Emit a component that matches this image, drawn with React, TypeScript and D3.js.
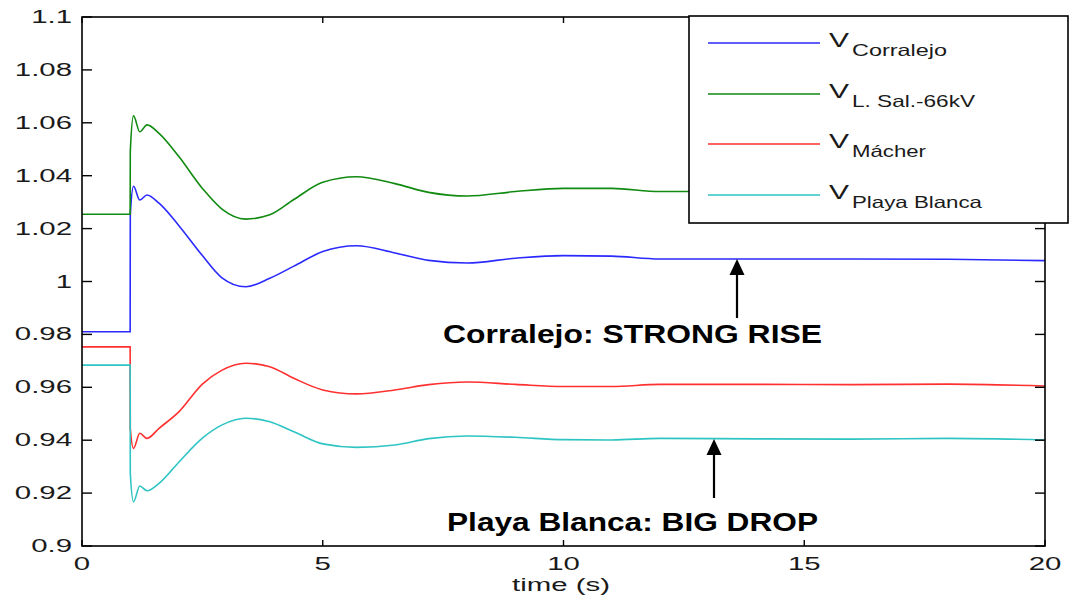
import React from "react";
import * as d3 from "d3";

const timeS = [0, 1, 1.003, 1.07, 1.2, 1.35, 1.6, 2.0, 2.5, 2.9, 3.4, 3.9, 4.4, 5.0, 5.7, 6.5, 7.2, 8.0, 9.0, 10, 11, 12, 14, 16, 18, 20];
const vCorralejo = [0.981, 0.981, 1.025, 1.036, 1.0308, 1.0327, 1.0296, 1.0214, 1.0098, 1.0015, 0.998, 1.0012, 1.0058, 1.0113, 1.0135, 1.0108, 1.008, 1.007, 1.0088, 1.0098, 1.0096, 1.0085, 1.0085, 1.0085, 1.0084, 1.0079];
const vLSal = [1.0254, 1.0254, 1.049, 1.0626, 1.0566, 1.0592, 1.056, 1.0475, 1.0352, 1.0275, 1.0236, 1.0252, 1.031, 1.0375, 1.0396, 1.037, 1.0337, 1.0323, 1.034, 1.0352, 1.0352, 1.034, 1.034, 1.034, 1.034, 1.034];
const vMacher = [0.9753, 0.9753, 0.9445, 0.9369, 0.9426, 0.9407, 0.9445, 0.9505, 0.9612, 0.9664, 0.9691, 0.9678, 0.9634, 0.959, 0.9575, 0.959, 0.961, 0.962, 0.9611, 0.9603, 0.9603, 0.9611, 0.9611, 0.961, 0.9612, 0.9605];
const vPlaya = [0.9684, 0.9684, 0.9275, 0.9167, 0.9227, 0.9209, 0.9237, 0.9315, 0.9408, 0.9457, 0.9483, 0.947, 0.9432, 0.9386, 0.9373, 0.9382, 0.9406, 0.9416, 0.9411, 0.9402, 0.9401, 0.9407, 0.9405, 0.9404, 0.9407, 0.9401];

const xTicks = [0, 5, 10, 15, 20];
const yTicks = [0.9, 0.92, 0.94, 0.96, 0.98, 1, 1.02, 1.04, 1.06, 1.08, 1.1];
const yTickLabels = ["0.9", "0.92", "0.94", "0.96", "0.98", "1", "1.02", "1.04", "1.06", "1.08", "1.1"];

const seriesNames = ["Corralejo", "L. Sal.-66kV", "Mácher", "Playa Blanca"];
const seriesColors = ["#2a2aff", "#118a11", "#ff3030", "#2ec4c4"];
const seriesValues = [vCorralejo, vLSal, vMacher, vPlaya];
const subWidths = [95, 123, 74, 130];

const FONT = "'Liberation Sans', Arial, Helvetica, sans-serif";

export default function App() {
  const L = 82, R = 1045, T = 17, B = 546;
  const x = d3.scaleLinear().domain([0, 20]).range([L, R]);
  const y = d3.scaleLinear().domain([0.9, 1.1]).range([B, T]);
  const line = d3
    .line<number>()
    .x((_, i) => x(timeS[i]))
    .y((d) => y(d))
    .curve(d3.curveMonotoneX);

  const sx = 1.68;
  const legY = [43, 94, 144, 195];

  return (
    <svg width={1074} height={600} style={{ position: "absolute", left: 0, top: 0, background: "#fff" }}>
      <rect x={0} y={0} width={1074} height={600} fill="#fff" />
      {seriesValues.map((vals, k) => (
        <path key={k} d={line(vals) || ""} fill="none" stroke={seriesColors[k]} strokeWidth={1.6} />
      ))}
      <rect x={L} y={T} width={R - L} height={B - T} fill="none" stroke="#000" strokeWidth={1.6} />
      {yTicks.map((v, i) => (
        <g key={"y" + i}>
          <line x1={L} x2={L + 10} y1={y(v)} y2={y(v)} stroke="#000" strokeWidth={1.4} />
          <line x1={R} x2={R - 10} y1={y(v)} y2={y(v)} stroke="#000" strokeWidth={1.4} />
          <text
            transform={`translate(72,${y(v) + 6}) scale(${sx},1)`}
            textAnchor="end"
            fontFamily={FONT}
            fontSize={17.5}
            fill="#1a1a1a"
          >
            {yTickLabels[i]}
          </text>
        </g>
      ))}
      {xTicks.map((v, i) => (
        <g key={"x" + i}>
          <line x1={x(v)} x2={x(v)} y1={B} y2={B - 6} stroke="#000" strokeWidth={1.4} />
          <line x1={x(v)} x2={x(v)} y1={T} y2={T + 6} stroke="#000" strokeWidth={1.4} />
          <text
            transform={`translate(${x(v)},570) scale(${sx},1)`}
            textAnchor="middle"
            fontFamily={FONT}
            fontSize={17.5}
            fill="#1a1a1a"
          >
            {String(v)}
          </text>
        </g>
      ))}
      <text x={561} y={591} textAnchor="middle" fontFamily={FONT} fontSize={17.5} fill="#1a1a1a" textLength={98} lengthAdjust="spacingAndGlyphs">
        time (s)
      </text>
      <rect x={689} y={16} width={379} height={207} fill="#fff" stroke="#000" strokeWidth={1.6} />
      {seriesNames.map((n, k) => (
        <g key={"l" + k}>
          <line x1={708} x2={820} y1={legY[k]} y2={legY[k]} stroke={seriesColors[k]} strokeWidth={1.6} />
          <text x={829} y={legY[k] + 4} fontFamily={FONT} fontSize={21} fill="#1a1a1a" textLength={20} lengthAdjust="spacingAndGlyphs">
            V
          </text>
          <text x={852} y={legY[k] + 13} fontFamily={FONT} fontSize={16.5} fill="#1a1a1a" textLength={subWidths[k]} lengthAdjust="spacingAndGlyphs">
            {n}
          </text>
        </g>
      ))}
      <line x1={737} x2={737} y1={272} y2={318} stroke="#000" strokeWidth={2.2} />
      <path d="M737,259 L729.5,275 L744.5,275 Z" fill="#000" />
      <text x={443} y={343} fontFamily={FONT} fontSize={26} fontWeight="bold" fill="#000" textLength={379} lengthAdjust="spacingAndGlyphs">
        Corralejo: STRONG RISE
      </text>
      <line x1={714} x2={714} y1={452} y2={498} stroke="#000" strokeWidth={2.2} />
      <path d="M714,439 L706.5,455 L721.5,455 Z" fill="#000" />
      <text x={447} y={531} fontFamily={FONT} fontSize={26} fontWeight="bold" fill="#000" textLength={371} lengthAdjust="spacingAndGlyphs">
        Playa Blanca: BIG DROP
      </text>
    </svg>
  );
}
